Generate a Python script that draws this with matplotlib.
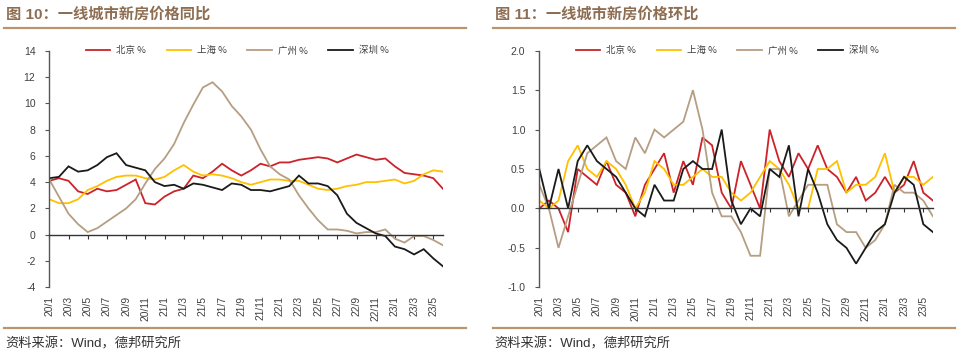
import matplotlib
matplotlib.use("Agg")
import matplotlib.pyplot as plt
from matplotlib.lines import Line2D

plt.rcParams['font.family'] = ['Liberation Sans', 'Noto Sans CJK SC', 'DejaVu Sans']

months = ['20/1', '20/2', '20/3', '20/4', '20/5', '20/6', '20/7', '20/8', '20/9', '20/10', '20/11', '20/12',
          '21/1', '21/2', '21/3', '21/4', '21/5', '21/6', '21/7', '21/8', '21/9', '21/10', '21/11', '21/12',
          '22/1', '22/2', '22/3', '22/4', '22/5', '22/6', '22/7', '22/8', '22/9', '22/10', '22/11', '22/12',
          '23/1', '23/2', '23/3', '23/4', '23/5', '23/6']
series_names = ['北京 %', '上海 %', '广州 %', '深圳 %']
colors = ['#CC2229', '#FFC000', '#B59E82', '#1A1A1A']

# 同比 (YoY)
yoy_bj = [4.1, 4.3, 4.1, 3.3, 3.1, 3.5, 3.3, 3.4, 3.8, 4.2, 2.4, 2.3, 2.9, 3.3, 3.5, 4.5, 4.3, 4.8, 5.4, 4.9, 4.5,
          4.9, 5.4, 5.2, 5.5, 5.5, 5.7, 5.8, 5.9, 5.8, 5.5, 5.8, 6.1, 5.9, 5.7, 5.8, 5.2, 4.7, 4.6, 4.5, 4.3, 3.5]
yoy_sh = [2.7, 2.4, 2.4, 2.7, 3.4, 3.7, 4.1, 4.4, 4.5, 4.5, 4.3, 4.2, 4.4, 4.9, 5.3, 4.8, 4.5, 4.6, 4.5, 4.3, 4.0,
          3.8, 4.0, 4.2, 4.2, 4.1, 4.1, 3.8, 3.5, 3.4, 3.5, 3.7, 3.8, 4.0, 4.0, 4.1, 4.2, 3.9, 4.1, 4.6, 4.9, 4.8]
yoy_gz = [4.2, 2.9, 1.6, 0.8, 0.2, 0.5, 1.0, 1.5, 2.0, 2.7, 3.9, 5.0, 5.8, 6.9, 8.5, 9.9, 11.2, 11.6, 10.9, 9.8, 9.0,
          8.0, 6.5, 5.2, 4.6, 4.2, 3.0, 2.0, 1.1, 0.4, 0.4, 0.3, 0.1, 0.2, 0.2, 0.4, -0.3, -0.6, -0.1, -0.1, -0.4, -0.8]
yoy_sz = [4.3, 4.4, 5.2, 4.8, 4.9, 5.3, 5.9, 6.2, 5.3, 5.1, 4.9, 4.0, 3.7, 3.8, 3.5, 3.9, 3.8, 3.6, 3.4, 3.9, 3.8,
          3.4, 3.4, 3.3, 3.5, 3.7, 4.5, 3.9, 3.9, 3.7, 3.0, 1.6, 0.9, 0.5, 0.1, -0.1, -0.9, -1.1, -1.5, -1.1, -1.8, -2.4]

# 环比 (MoM)
mom_bj = [0.0, 0.1, 0.0, -0.3, 0.5, 0.4, 0.3, 0.6, 0.3, 0.2, -0.1, 0.3, 0.5, 0.7, 0.2, 0.6, 0.3, 0.9, 0.8, 0.2, 0.0,
          0.6, 0.3, 0.0, 1.0, 0.6, 0.4, 0.7, 0.5, 0.8, 0.5, 0.4, 0.2, 0.4, 0.1, 0.2, 0.4, 0.2, 0.3, 0.6, 0.2, 0.1]
mom_sh = [0.1, 0.0, 0.1, 0.6, 0.8, 0.5, 0.4, 0.6, 0.5, 0.3, 0.0, 0.2, 0.6, 0.5, 0.3, 0.3, 0.4, 0.5, 0.4, 0.4, 0.2,
          0.1, 0.2, 0.4, 0.6, 0.5, 0.3, 0.0, 0.0, 0.5, 0.5, 0.6, 0.2, 0.3, 0.3, 0.4, 0.7, 0.2, 0.4, 0.4, 0.3, 0.4]
mom_gz = [0.3, 0.0, -0.5, -0.1, 0.3, 0.7, 0.8, 0.9, 0.6, 0.5, 0.9, 0.7, 1.0, 0.9, 1.0, 1.1, 1.5, 1.0, 0.2, -0.1, -0.1,
          -0.3, -0.6, -0.6, 0.5, 0.5, -0.1, 0.1, 0.3, 0.3, 0.3, -0.2, -0.3, -0.3, -0.5, -0.4, -0.2, 0.3, 0.2, 0.2, 0.1, -0.1]
mom_sz = [0.5, 0.0, 0.5, 0.0, 0.6, 0.8, 0.6, 0.5, 0.4, 0.2, 0.0, -0.1, 0.3, 0.1, 0.1, 0.5, 0.6, 0.5, 0.5, 1.0, 0.1,
          -0.2, 0.0, -0.1, 0.5, 0.4, 0.8, -0.1, 0.5, 0.2, -0.2, -0.4, -0.5, -0.7, -0.5, -0.3, -0.2, 0.2, 0.4, 0.3, -0.2, -0.3]

yoy_ticks = [-4, -2, 0, 2, 4, 6, 8, 10, 12, 14]
mom_ticks = [-1.0, -0.5, 0.0, 0.5, 1.0, 1.5, 2.0]

titles = ['图 10：一线城市新房价格同比', '图 11：一线城市新房价格环比']
source = '资料来源：Wind，德邦研究所'

W, H = 960, 355
fig = plt.figure(figsize=(W / 100, H / 100), dpi=100)

TITLE_C = '#8E6E52'
RULE_C = '#B9946C'
TXT_C = '#404040'
MIXED = ['Liberation Sans', 'Noto Sans CJK SC', 'DejaVu Sans']


def panel(x0, ax_left_px, data, yticks, fmt, title):
    ax = fig.add_axes([ax_left_px / W, 1 - 287.3 / H, 393.6 / W, (287.3 - 50.7) / H])
    xs = list(range(len(months)))
    for vals, c, n in zip(data, colors, series_names):
        ax.plot(xs, vals, color=c, lw=1.3, label=n, solid_joinstyle='miter')
    ax.set_xlim(0, len(months) - 1)
    ax.set_ylim(yticks[0], yticks[-1])
    ax.set_yticks(yticks)
    ax.set_yticklabels([fmt.format(v) for v in yticks])
    for s in ['top', 'right']:
        ax.spines[s].set_visible(False)
    ax.spines['left'].set_color('#555555')
    ax.spines['left'].set_linewidth(1.0)
    ax.spines['bottom'].set_position(('data', 0))
    ax.spines['bottom'].set_color('#333333')
    ax.spines['bottom'].set_linewidth(1.0)
    tpos = xs[::2]
    ax.set_xticks(tpos)
    ax.tick_params(axis='x', direction='out', length=3, width=0.8, color='#333333', labelbottom=False)
    ax.tick_params(axis='y', direction='out', length=3, width=0.8, color='#555555',
                   labelsize=7.5, labelcolor=TXT_C, pad=7)
    sec = ax.secondary_xaxis('bottom')
    sec.set_xticks(tpos)
    sec.set_xticklabels([months[i] for i in tpos], rotation=90, va='top', ha='center')
    sec.tick_params(length=0, labelsize=7.4, labelcolor=TXT_C, pad=6)
    sec.spines['bottom'].set_visible(False)
    ax.legend(loc='center', bbox_to_anchor=(0.477, 1.0), ncol=4, frameon=False,
              prop=dict(family=['Noto Sans CJK SC', 'DejaVu Sans'], size=6.8),
              handlelength=2.6, columnspacing=2.2, handletextpad=0.6, labelcolor=TXT_C)
    # header / footer
    fig.text((x0 + 2) / W, 1 - 14 / H, title, fontsize=11, fontweight='bold', color=TITLE_C,
             family=MIXED, va='center', ha='left')
    fig.add_artist(Line2D([(x0) / W, (x0 + 462) / W], [1 - 28 / H, 1 - 28 / H], color=RULE_C, lw=1.6))
    fig.add_artist(Line2D([(x0) / W, (x0 + 462) / W], [1 - 328 / H, 1 - 328 / H], color=RULE_C, lw=1.6))
    fig.text((x0 + 1) / W, 1 - 344 / H, source, fontsize=9.5, color='#333333',
             family=MIXED, va='center', ha='left')
    return ax


panel(4, 49.3, [yoy_bj, yoy_sh, yoy_gz, yoy_sz], yoy_ticks, '{:.0f}', titles[0])
panel(493, 539.3, [mom_bj, mom_sh, mom_gz, mom_sz], mom_ticks, '{:.1f}', titles[1])

fig.savefig('out.png', dpi=100, facecolor='white')
